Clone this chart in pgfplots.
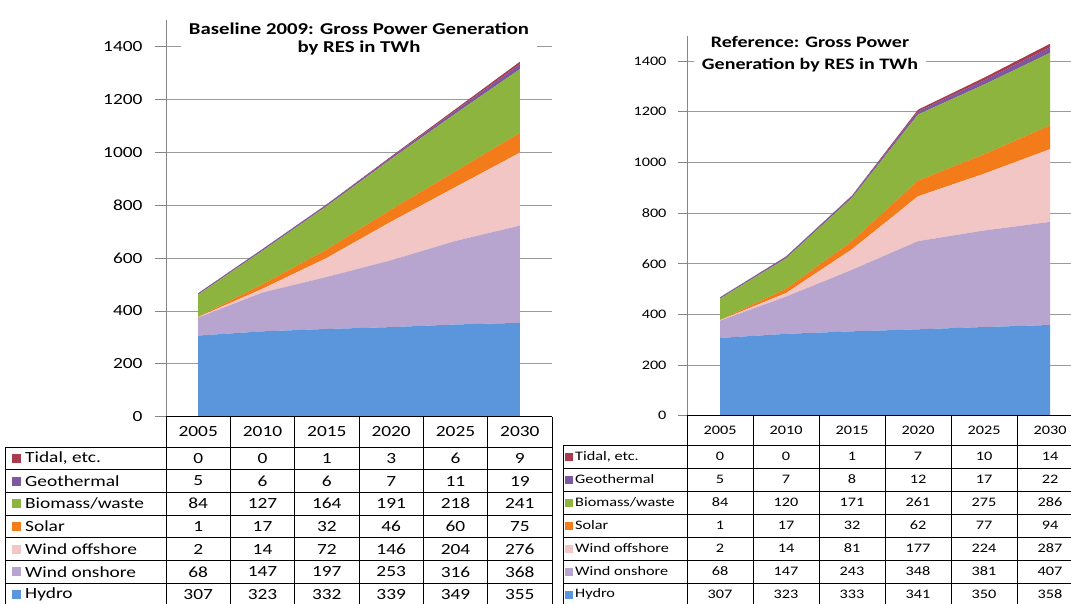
\documentclass[border=0pt]{standalone}
\usepackage{fontspec}
\setmainfont{Carlito}[FakeStretch=1.25]
\usepackage{pgfplots}
\usepackage{pgfplotstable}
\pgfplotsset{compat=1.18}

\definecolor{hydro}{HTML}{5B95DC}
\definecolor{onshore}{HTML}{B7A5CF}
\definecolor{offshore}{HTML}{F2C6C4}
\definecolor{solar}{HTML}{F47B1A}
\definecolor{biomass}{HTML}{8DB43F}
\definecolor{geo}{HTML}{7E57A0}
\definecolor{tidal}{HTML}{A83C4C}
\definecolor{axisgray}{HTML}{868686}
\definecolor{gridgray}{HTML}{9A9A9A}

\pgfplotstableread{
x hydro onshore offshore solar biomass geo tidal
0 307 68 2 1 84 5 0
1 323 147 14 17 127 6 0
2 332 197 72 32 164 6 1
3 339 253 146 46 191 7 3
4 349 316 204 60 218 11 6
5 355 368 276 75 241 19 9
}\tabBase

\pgfplotstableread{
x hydro onshore offshore solar biomass geo tidal
0 307 68 2 1 84 5 0
1 323 147 14 17 120 7 0
2 333 243 81 32 171 8 1
3 341 348 177 62 261 12 7
4 350 381 224 77 275 17 10
5 358 407 287 94 286 22 14
}\tabRef

\pgfplotsset{
  rescharts/.style={
    scale only axis, anchor=south west,
    xmin=-0.5, xmax=5.5, ymin=0, ymax=1500,
    xtick=\empty, ytick={0,200,...,1400},
    axis x line=none, axis y line=left,
    y axis line style={-, draw=axisgray, line width=0.8pt},
    ymajorgrids, grid style={draw=gridgray, line width=0.7pt},
    tick align=outside,
    ytick style={draw=axisgray, line width=0.8pt},
    /pgf/number format/assume math mode=true,
    /pgf/number format/1000 sep={},
    stack plots=y,
  },
}

\newcommand\stackall[1]{%
  \addplot[fill=hydro, draw=none] table[x=x,y=hydro]{#1} \closedcycle;
  \addplot[fill=onshore, draw=none] table[x=x,y=onshore]{#1} \closedcycle;
  \addplot[fill=offshore, draw=none] table[x=x,y=offshore]{#1} \closedcycle;
  \addplot[fill=solar, draw=none] table[x=x,y=solar]{#1} \closedcycle;
  \addplot[fill=biomass, draw=none] table[x=x,y=biomass]{#1} \closedcycle;
  \addplot[fill=geo, draw=none] table[x=x,y=geo]{#1} \closedcycle;
  \addplot[fill=tidal, draw=none] table[x=x,y=tidal]{#1} \closedcycle;
}

% left table row: #1 row index, #2 values
\newcommand\LRow[2]{\foreach \v [count=\i from 0] in {#2}
  \node[font=\fontsize{15.5}{18}\selectfont] at ({198.17+64.33*\i},{156-11.35-22.7*#1}) {\v};}
\newcommand\RRow[2]{\foreach \v [count=\i from 0] in {#2}
  \node[font=\fontsize{13}{15}\selectfont] at ({720+66*\i},{158-11.5-23*#1}) {\v};}
\newcommand\LLab[3]{%
  \fill[#2] (12,{156-11.35-22.7*#1-4.5}) rectangle +(9,9);
  \node[anchor=west, font=\fontsize{15.5}{18}\selectfont, inner sep=0pt] at (25,{156-11.35-22.7*#1}) {#3};}
\newcommand\RLab[3]{%
  \fill[#2] (565,{158-11.5-23*#1-4}) rectangle +(8,8);
  \node[anchor=west, font=\fontsize{13}{15}\selectfont, inner sep=0pt] at (575,{158-11.5-23*#1}) {#3};}

\begin{document}
\begin{tikzpicture}[x=1pt,y=1pt]
\useasboundingbox (0,0) rectangle (1071,603);
\clip (0,0) rectangle (1071,603);

% ---------- left chart ----------
\begin{axis}[rescharts,
  at={(166pt,186.3pt)}, width=386pt, height=396.4pt,
  major tick length=11pt,
  yticklabel style={font=\fontsize{15.5}{18}\selectfont, text=black, xshift=-9pt},
]
\stackall{\tabBase}
\end{axis}
\node[fill=white, align=center, font=\bfseries\fontsize{16.6}{18.5}\selectfont, inner xsep=8pt, inner ysep=2pt]
  at (359,564) {Baseline 2009: Gross Power Generation\\by RES in TWh};

% ---------- right chart ----------
\begin{axis}[rescharts,
  at={(687pt,187.3pt)}, width=396pt, height=380pt,
  major tick length=9pt,
  yticklabel style={font=\fontsize{13}{15}\selectfont, text=black, xshift=-8pt},
]
\stackall{\tabRef}
\end{axis}
\node[fill=white, align=center, font=\bfseries\fontsize{16}{22}\selectfont, inner xsep=8pt, inner ysep=2pt]
  at (810,549) {Reference: Gross Power\\Generation by RES in TWh};

% ---------- left table ----------
\begin{scope}[line width=0.9pt]
\draw (166,186.3) -- (552,186.3);
\foreach \k in {0,...,7} \draw (5,{156-22.7*\k}) -- (552,{156-22.7*\k});
\foreach \k in {0,...,6} \draw ({166+64.33*\k},186.3) -- ({166+64.33*\k},-3);
\draw (5,156) -- (5,-3);
\end{scope}
\foreach \v [count=\i from 0] in {2005,2010,2015,2020,2025,2030}
  \node[font=\fontsize{15.5}{18}\selectfont] at ({198.17+64.33*\i},171) {\v};
\LLab{0}{tidal}{Tidal, etc.}
\LLab{1}{geo}{Geothermal}
\LLab{2}{biomass}{Biomass/waste}
\LLab{3}{solar}{Solar}
\LLab{4}{offshore}{Wind offshore}
\LLab{5}{onshore}{Wind onshore}
\LLab{6}{hydro}{Hydro}
\LRow{0}{0,0,1,3,6,9}
\LRow{1}{5,6,6,7,11,19}
\LRow{2}{84,127,164,191,218,241}
\LRow{3}{1,17,32,46,60,75}
\LRow{4}{2,14,72,146,204,276}
\LRow{5}{68,147,197,253,316,368}
\LRow{6}{307,323,332,339,349,355}

% ---------- right table ----------
\begin{scope}[line width=0.9pt]
\draw (687,187.3) -- (1083,187.3);
\foreach \k in {0,...,7} \draw (563,{158-23*\k}) -- (1083,{158-23*\k});
\foreach \k in {0,...,6} \draw ({687+66*\k},187.3) -- ({687+66*\k},-3);
\draw (563,158) -- (563,-3);
\end{scope}
\foreach \v [count=\i from 0] in {2005,2010,2015,2020,2025,2030}
  \node[font=\fontsize{13}{15}\selectfont] at ({720+66*\i},172.5) {\v};
\begin{scope}
\clip (563,-5) rectangle (686.5,158);
\RLab{0}{tidal}{Tidal, etc.}
\RLab{1}{geo}{Geothermal}
\RLab{2}{biomass}{Biomass/waste}
\RLab{3}{solar}{Solar}
\RLab{4}{offshore}{Wind offshore}
\RLab{5}{onshore}{Wind onshore}
\RLab{6}{hydro}{Hydro}
\end{scope}
\RRow{0}{0,0,1,7,10,14}
\RRow{1}{5,7,8,12,17,22}
\RRow{2}{84,120,171,261,275,286}
\RRow{3}{1,17,32,62,77,94}
\RRow{4}{2,14,81,177,224,287}
\RRow{5}{68,147,243,348,381,407}
\RRow{6}{307,323,333,341,350,358}
\end{tikzpicture}
\end{document}
